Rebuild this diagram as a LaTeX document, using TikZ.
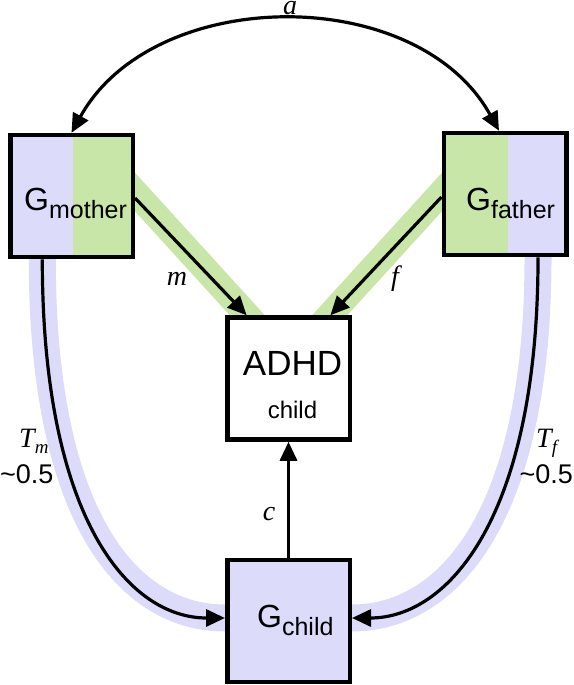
\documentclass[tikz,border=0pt]{standalone}
\usepackage{fontspec}
\setmainfont{Liberation Sans}
\newfontfamily\serifit{Liberation Serif}
\usetikzlibrary{arrows.meta,backgrounds,calc}
\definecolor{bandblue}{HTML}{DCDCFA}
\definecolor{bandgreen}{HTML}{C8E6A8}
\tikzset{
 box/.style={draw=black, line width=4.5pt, minimum width=122.5pt, minimum height=122pt, inner sep=0pt},
 arr/.style={line width=3.2pt, -{Triangle[length=19pt,width=17pt]}},
 darr/.style={line width=3.2pt, {Triangle[length=19pt,width=17pt]}-{Triangle[length=19pt,width=17pt]}},
 bandg/.style={draw=bandgreen, line width=26pt},
 bandb/.style={draw=bandblue, line width=27pt},
 lab/.style={font=\serifit\itshape\fontsize{28}{28}\selectfont, inner sep=0pt},
 num/.style={font=\fontsize{27}{27}\selectfont, inner sep=0pt},
 txt/.style={inner sep=0pt},
}
\newcommand{\bigG}{\fontsize{32}{32}\selectfont G}
\newcommand{\subtxt}[1]{\raisebox{-8pt}{\fontsize{25}{25}\selectfont #1}}
\begin{document}
\begin{tikzpicture}[x=1pt,y=-1pt]
\useasboundingbox (0,0) rectangle (573,685);
% boxes
\node[box, path picture={
  \fill[bandblue] (path picture bounding box.south west) rectangle ([xshift=1.5pt]path picture bounding box.north);
  \fill[bandgreen] ([xshift=1.5pt]path picture bounding box.south) rectangle (path picture bounding box.north east);}]
  (gm) at (71.5,196) {};
\node[box, path picture={
  \fill[bandgreen] (path picture bounding box.south west) rectangle ([xshift=3pt]path picture bounding box.north);
  \fill[bandblue] ([xshift=3pt]path picture bounding box.south) rectangle (path picture bounding box.north east);}]
  (gf) at (505,194) {};
\node[box, fill=white] (adhd) at (288.5,378.5) {};
\node[box, fill=bandblue] (gc) at (288.5,621) {};
% texts
\node[txt, anchor=base west] (gmt) at (24,210) {\bigG\subtxt{mother}};
\node[txt, anchor=base west] (gft) at (466,210) {\bigG\subtxt{father}};
\node[txt, anchor=base west] (gct) at (257,627) {\bigG\subtxt{child}};
\node[txt, anchor=base, font=\fontsize{35}{35}\selectfont] (adt) at (292.5,375) {ADHD};
\node[txt, anchor=base, font=\fontsize{24}{24}\selectfont] (adc) at (292.5,418) {child};
% bands
\begin{scope}[on background layer]
\draw[bandg] (125,181) -- (258,327);
\draw[bandg] (452,181) -- (319,327);
\draw[bandb] ($(gm.south west)!0.27!(gm.south east)+(0,-10)$) -- ($(gm.south west)!0.27!(gm.south east)$) .. controls +(0,260) and +(-96,0) .. ($(gc.west)+(0,-3)$) -- +(10,0);
\draw[bandb] ($(gf.south west)!0.76!(gf.south east)+(0,-10)$) -- ($(gf.south west)!0.76!(gf.south east)$) .. controls +(0,260) and +(96,0) .. ($(gc.east)+(0,-3)$) -- +(-10,0);
\end{scope}
% connectors
\draw[darr] (gm.north) .. controls +(82,-148) and +(-82,-148) .. ($(gf.north)+(-6,0)$);
\draw[arr] ($(gm.east)+(0,2)$) -- ($(adhd.north west)!0.17!(adhd.north east)$);
\draw[arr] ($(gf.west)+(0,3)$) -- ($(adhd.north west)!0.83!(adhd.north east)$);
\draw[arr] ($(gm.south west)!0.27!(gm.south east)$) .. controls +(0,260) and +(-96,0) .. ($(gc.west)+(0,-3)$);
\draw[arr] ($(gf.south west)!0.76!(gf.south east)$) .. controls +(0,260) and +(96,0) .. ($(gc.east)+(0,-3)$);
\draw[arr] (gc.north) -- (adhd.south);
% labels
\node[lab, anchor=base] (la) at (290,15) {a};
\node[lab, anchor=base] (lm) at (177,285) {m};
\node[lab, anchor=base] (lf) at (395,285) {f};
\node[lab, anchor=base] (lc) at (269,520) {c};
\node[lab, anchor=base west] (ltm) at (19,447) {T\raisebox{-6pt}{\fontsize{19}{19}\selectfont m}};
\node[lab, anchor=base west] (ltf) at (536,447) {T\raisebox{-6pt}{\fontsize{19}{19}\selectfont f}};
\node[num, anchor=base west] (n1) at (0,483) {\textasciitilde 0.5};
\node[num, anchor=base east] (n2) at (573,483) {\textasciitilde 0.5};
\end{tikzpicture}
\end{document}
